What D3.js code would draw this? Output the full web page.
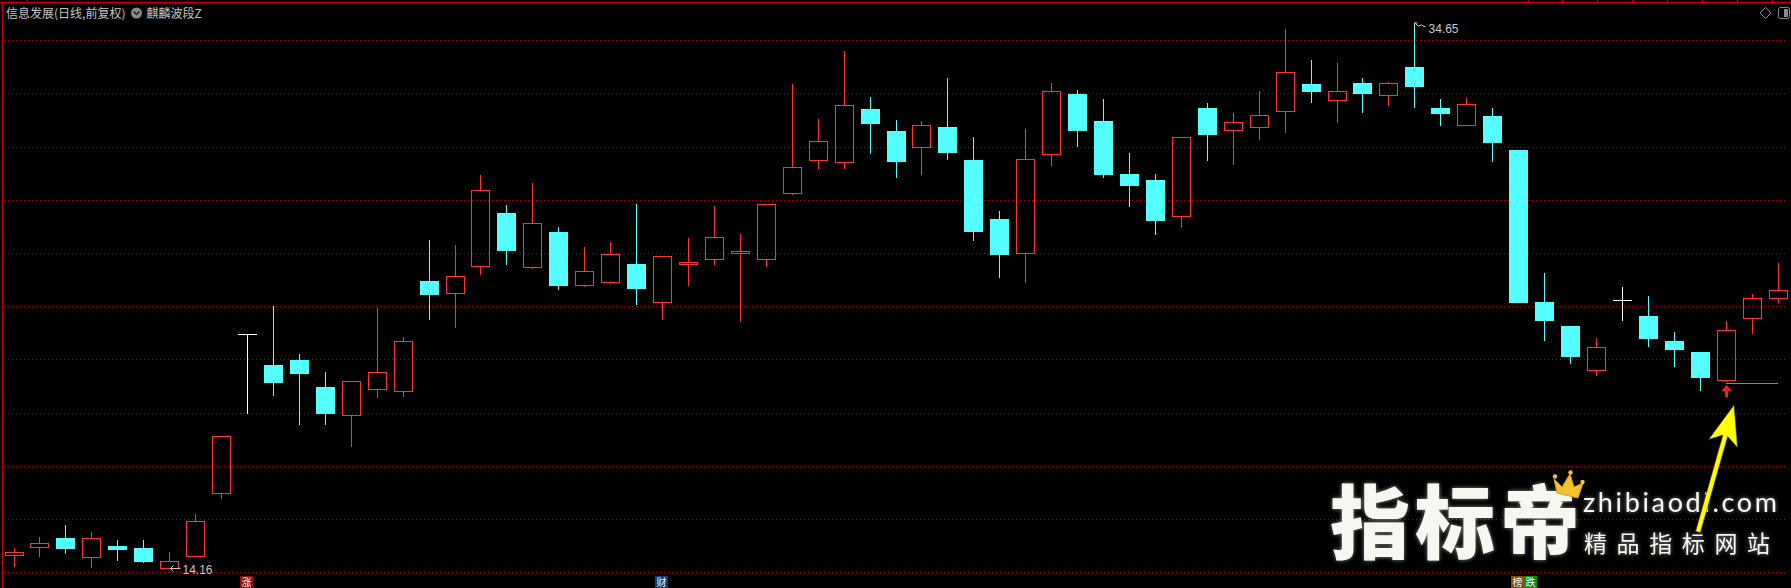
<!DOCTYPE html>
<html><head><meta charset="utf-8">
<script src="https://cdn.jsdelivr.net/npm/d3@7"></script>
<style>
html,body{margin:0;padding:0;background:#000;overflow:hidden;}
svg{display:block;}
</style></head><body>
<svg id="chart" width="1791" height="588"></svg>
<script>
// ---------------- data ----------------
const categories = ["1","2","3","4","5","6","7","8","9","10","11","12","13","14","15","16","17","18","19","20",
"21","22","23","24","25","26","27","28","29","30","31","32","33","34","35","36","37","38","39","40",
"41","42","43","44","45","46","47","48","49","50","51","52","53","54","55","56","57","58","59","60",
"61","62","63","64","65","66","67","68","69"];
const openPrices = [14.64,14.96,15.29,14.59,14.99,14.91,14.16,14.62,16.97,22.94,
21.79,21.98,20.97,19.90,20.88,20.80,24.95,24.49,25.50,27.51,
25.47,26.79,24.79,24.90,25.59,24.17,25.58,25.79,25.99,25.79,
28.25,29.49,29.44,31.42,30.59,29.98,30.74,29.50,27.28,25.99,
29.74,31.98,30.97,28.97,28.75,27.38,31.45,30.62,30.73,31.33,
32.36,31.74,32.39,31.95,33.00,31.45,30.83,31.15,29.88,24.16,
23.26,21.59,24.23,23.64,22.70,22.28,21.22,23.57,24.30];
const highPrices = [14.91,15.33,15.78,15.50,15.21,15.21,14.76,16.19,19.12,22.94,
24.01,22.21,21.53,21.19,23.94,22.85,26.49,26.30,28.94,27.81,
28.64,26.98,26.23,26.42,27.85,25.89,26.57,27.77,26.72,27.85,
32.36,31.04,33.60,31.87,31.00,30.97,32.58,30.36,27.58,30.67,
32.39,32.13,31.79,29.76,28.97,30.36,31.64,31.27,32.09,34.43,
33.26,33.15,32.58,32.44,34.65,31.79,31.83,31.45,29.88,25.25,
23.26,22.81,24.73,24.39,23.03,22.28,23.45,24.46,25.63];
const lowPrices = [14.25,14.62,14.74,14.21,14.47,14.40,14.16,14.60,16.80,20.00,
20.68,19.59,19.59,18.76,20.60,20.64,23.53,23.23,25.23,25.60,
25.45,24.66,24.78,24.88,24.10,23.53,24.80,25.59,23.46,25.53,
28.23,29.21,29.21,29.77,28.87,28.98,29.55,26.50,25.11,24.92,
29.32,30.04,28.87,27.78,26.73,26.99,29.51,29.36,30.30,30.56,
31.69,30.94,31.32,31.58,31.50,30.83,30.82,29.47,24.15,22.74,
21.88,21.43,23.50,22.52,21.77,20.86,21.20,23.01,24.17];
const closePrices = [14.75,15.09,14.92,15.28,14.89,14.44,14.42,15.93,19.12,22.94,
21.17,21.50,20.00,21.19,21.53,22.70,24.47,25.13,28.36,26.13,
27.12,24.81,25.32,25.95,24.70,25.89,25.65,26.59,26.07,27.85,
29.23,30.20,31.56,30.90,29.47,30.80,29.81,26.84,25.98,29.53,
32.08,30.64,28.98,28.57,27.26,30.36,30.49,30.92,31.18,32.81,
32.11,32.09,32.03,32.39,32.29,31.28,31.59,30.19,24.15,23.50,
22.14,22.46,24.23,22.82,22.41,21.35,23.11,24.30,24.60];
const gridPrices = [14,16,18,20,22,24,26,28,30,32,34];
const titleText = "信息发展(日线,前复权)";
const indicatorName = "麒麟波段Z";
const markerIndex = [9, 25, 58];
const markerText = ["涨", "财", "榜跌"];
const buySignalIndex = [66];
const supportFrom = 66, supportTo = 68, supportPrice = 21.11;

// ---------------- setup ----------------
const W = 1791, H = 588;
const RED = "#ff3535", CYAN = "#54ffff", WHITE = "#ffffff";
const svg = d3.select("#chart");
const defs = svg.append("defs");
const glow = defs.append("filter").attr("id","glow").attr("x","-10%").attr("y","-20%").attr("width","120%").attr("height","140%");
glow.append("feGaussianBlur").attr("in","SourceAlpha").attr("stdDeviation",2.2).attr("result","b");
glow.append("feFlood").attr("flood-color","#a0a0a0").attr("flood-opacity",0.85);
glow.append("feComposite").attr("in2","b").attr("operator","in").attr("result","s");
const gm = glow.append("feMerge"); gm.append("feMergeNode").attr("in","s"); gm.append("feMergeNode").attr("in","SourceGraphic");

svg.append("rect").attr("width",W).attr("height",H).attr("fill","#000");

const x = d3.scalePoint().domain(categories).range([13.5, 1777.5]);
const y = d3.scaleLinear().domain([14, 34]).range([572.3, 40.3]);

// borders
const frame = svg.append("g").attr("shape-rendering","crispEdges");
frame.append("line").attr("x1",0).attr("x2",W).attr("y1",2.5).attr("y2",2.5).attr("stroke","#cc0000");
frame.append("line").attr("x1",2.5).attr("x2",2.5).attr("y1",2).attr("y2",H).attr("stroke","#cc0000");
frame.selectAll("line.tick").data([27,1528,1562,1597,1632,1667,1702,1737,1772]).join("line")
  .attr("class","tick").attr("x1",d=>d+0.5).attr("x2",d=>d+0.5).attr("y1",0).attr("y2",2)
  .attr("stroke","#cc0000");

// grid
svg.append("g").attr("shape-rendering","crispEdges")
  .selectAll("line").data(gridPrices).join("line")
  .attr("x1",4).attr("x2",1788)
  .attr("y1",d=>Math.round(y(d))+0.5).attr("y2",d=>Math.round(y(d))+0.5)
  .attr("stroke","#b40000").attr("stroke-dasharray","1,3");

// candles
const data = categories.map((c,i)=>({c,i,o:openPrices[i],h:highPrices[i],l:lowPrices[i],cl:closePrices[i]}));
const cg = svg.append("g").attr("shape-rendering","crispEdges");
cg.selectAll("g.candle").data(data).join("g").attr("class","candle").each(function(d){
  const g = d3.select(this);
  const cx = Math.round(x(d.c));
  const yH = Math.round(y(d.h)), yL = Math.round(y(d.l));
  const yTop = Math.round(y(Math.max(d.o,d.cl))), yBot = Math.round(y(Math.min(d.o,d.cl)));
  if (d.cl > d.o) {
    if (yH < yTop) g.append("line").attr("x1",cx+0.5).attr("x2",cx+0.5).attr("y1",yH).attr("y2",yTop).attr("stroke",RED);
    if (yL > yBot) g.append("line").attr("x1",cx+0.5).attr("x2",cx+0.5).attr("y1",yBot+1).attr("y2",yL+1).attr("stroke",RED);
    g.append("rect").attr("x",cx-9+0.5).attr("y",yTop+0.5).attr("width",18).attr("height",Math.max(1,yBot-yTop))
      .attr("fill","none").attr("stroke",RED);
  } else if (d.cl < d.o) {
    g.append("line").attr("x1",cx+0.5).attr("x2",cx+0.5).attr("y1",yH).attr("y2",yL+1).attr("stroke",CYAN);
    g.append("rect").attr("x",cx-9).attr("y",yTop).attr("width",19).attr("height",Math.max(1,yBot-yTop+1)).attr("fill",CYAN);
  } else {
    g.append("line").attr("x1",cx+0.5).attr("x2",cx+0.5).attr("y1",yH).attr("y2",yL+1).attr("stroke",WHITE);
    g.append("line").attr("x1",cx-9).attr("x2",cx+10).attr("y1",yTop+0.5).attr("y2",yTop+0.5).attr("stroke",WHITE);
  }
});

// max / min labels
const hiIdx = d3.maxIndex(highPrices), loIdx = d3.minIndex(lowPrices);
const lab = svg.append("g").attr("font-family","'Liberation Sans', Arial, sans-serif").attr("font-size",12).attr("fill","#c8c8c8");
{
  const hx = Math.round(x(categories[hiIdx])) + 0.5, hy = Math.round(y(highPrices[hiIdx]));
  lab.append("path").attr("d",`M${hx},${hy+4}V${hy}H${hx+3}M${hx},${hy}L${hx+4},${hy+3}L${hx+7},${hy+2}L${hx+11},${hy+4}`)
    .attr("fill","none").attr("stroke","#c8c8c8").attr("stroke-width",1);
  lab.append("text").attr("x",hx+14).attr("y",hy+10).text(highPrices[hiIdx].toFixed(2));
  const lx = Math.round(x(categories[loIdx])) + 0.5, ly = Math.round(y(lowPrices[loIdx])) + 0.5;
  lab.append("path").attr("d",`M${lx+1},${ly}H${lx+11}M${lx+1},${ly}L${lx+4},${ly-3}M${lx+1},${ly}L${lx+4},${ly+3}`)
    .attr("fill","none").attr("stroke","#c8c8c8").attr("stroke-width",1);
  lab.append("text").attr("x",lx+13).attr("y",ly+5).text(lowPrices[loIdx].toFixed(2));
}

// support line and buy arrow
svg.append("line").attr("shape-rendering","crispEdges")
  .attr("x1",Math.round(x(categories[supportFrom]))).attr("x2",Math.round(x(categories[supportTo])))
  .attr("y1",Math.round(y(supportPrice))+0.5).attr("y2",Math.round(y(supportPrice))+0.5)
  .attr("stroke","#22cc22");
svg.selectAll("path.buy").data(buySignalIndex).join("path").attr("class","buy")
  .attr("d",i=>{const cx=Math.round(x(categories[i]))+0.5, t=Math.round(y(lowPrices[i]))+4;
    return `M${cx},${t}L${cx+5},${t+6}L${cx+1.5},${t+6}L${cx+1.5},${t+12}L${cx-1.5},${t+12}L${cx-1.5},${t+6}L${cx-5},${t+6}Z`;})
  .attr("fill","#ff1a1a");

// bottom markers
const mColors = {"涨":"#8e1111","财":"#0c3f7c","榜":"#8a4a00","跌":"#0f8a0f"};
const mg = svg.append("g").attr("font-family","'Noto Sans CJK SC', sans-serif").attr("font-size",10);
markerIndex.forEach((mi,k)=>{
  const cx = Math.round(x(categories[mi]));
  Array.from(markerText[k]).forEach((ch,j)=>{
    const x0 = cx - 7 + j*13;
    mg.append("rect").attr("x",x0).attr("y",576).attr("width",13).attr("height",12).attr("fill",mColors[ch]);
    mg.append("text").attr("x",x0+1.5).attr("y",585.5).attr("fill","#f0f0f0").text(ch);
  });
});

// title
const tg = svg.append("g").attr("font-family","'Noto Sans CJK SC', sans-serif").attr("font-size",12).attr("fill","#c4c4c4");
tg.append("text").attr("x",6).attr("y",17.5).text(titleText);
tg.append("circle").attr("cx",136.5).attr("cy",13).attr("r",5.5).attr("fill","#8a8a8a");
tg.append("path").attr("d","M133.5,11.5L136.5,14.5L139.5,11.5").attr("fill","none").attr("stroke","#222").attr("stroke-width",1.5);
tg.append("text").attr("x",146.5).attr("y",17.5).text(indicatorName);

// top-right icons
svg.append("path").attr("d","M1765.5,7.5L1771,13L1765.5,18.5L1760,13Z").attr("fill","none").attr("stroke","#8a8a8a");
svg.append("rect").attr("x",1778.5).attr("y",7.5).attr("width",11).attr("height",11).attr("rx",2).attr("fill","none").attr("stroke","#8a8a8a");
svg.append("rect").attr("x",1784).attr("y",9).attr("width",4).attr("height",8).attr("fill","#8a8a8a");

// watermark
const wm = svg.append("g").attr("filter","url(#glow)").attr("fill","#f7f7f2");
wm.append("text").attr("x",1330).attr("y",552).attr("font-family","'Noto Sans CJK SC', sans-serif")
  .attr("font-weight",900).attr("font-size",80).attr("letter-spacing",5).text("指标帝");
wm.append("text").attr("x",1583).attr("y",512).attr("font-family","Lato, 'Open Sans', sans-serif")
  .attr("font-size",27).attr("textLength",194).attr("lengthAdjust","spacing").text("zhibiaodi.com");
wm.append("text").attr("x",1584).attr("y",552).attr("font-family","'Noto Sans CJK SC', sans-serif")
  .attr("font-size",23).attr("textLength",186).attr("lengthAdjust","spacing").text("精品指标网站");
// crown
const cr = svg.append("g");
cr.append("path").attr("d","M1554,479L1562,487L1570,474L1574,487L1583,483L1578,498L1557,493Z").attr("fill","#f4c22e").attr("stroke","#d99a10");
[[1555,476.5],[1570.5,472.5],[1582.5,482]].forEach(p=>cr.append("circle").attr("cx",p[0]).attr("cy",p[1]).attr("r",2.2).attr("fill","#f4c22e"));

// yellow pointer arrow
{
  const T=[1734,405], S=[1698,532];
  const dx=T[0]-S[0], dy=T[1]-S[1], len=Math.hypot(dx,dy), ux=dx/len, uy=dy/len, nx=-uy, ny=ux;
  const B=[T[0]-40*ux, T[1]-40*uy], N=[T[0]-32*ux, T[1]-32*uy];
  const pts=[T,[B[0]+15*nx,B[1]+15*ny],[N[0]+2.5*nx,N[1]+2.5*ny],[S[0]+2.5*nx,S[1]+2.5*ny],[S[0]-2.5*nx,S[1]-2.5*ny],[N[0]-2.5*nx,N[1]-2.5*ny],[B[0]-15*nx,B[1]-15*ny]];
  svg.append("path").attr("d","M"+pts.map(p=>p.join(",")).join("L")+"Z").attr("fill","#ffff00")
    .attr("stroke","#333").attr("stroke-width",0.6);
}
</script>
</body></html>
